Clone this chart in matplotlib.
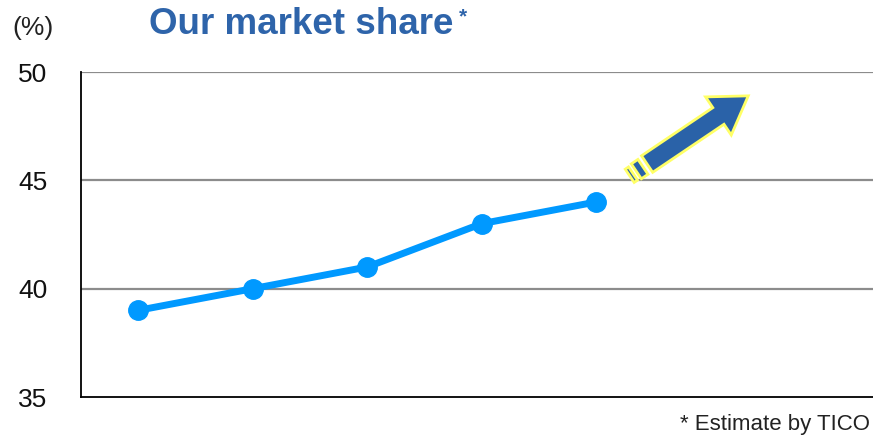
import numpy as np
import matplotlib.pyplot as plt
from matplotlib.patches import Polygon

# data
periods = [0, 1, 2, 3, 4]
share = [39, 40, 41, 43, 44]
y_ticks = [35, 40, 45, 50]

plt.rcParams['font.family'] = ['Liberation Sans', 'DejaVu Sans']

fig = plt.figure(figsize=(8.73, 4.38), dpi=100)
ax = fig.add_axes([0.0928, 0.0936, 0.9072, 0.742])

ax.plot(periods, share, color='#0099FF', lw=5, marker='o', ms=14,
        solid_capstyle='round', zorder=3, clip_on=False)

ax.set_xlim(-0.5, 6.42)
ax.set_ylim(35, 50)
ax.set_yticks(y_ticks)
ax.set_yticklabels([str(v) for v in y_ticks], fontsize=19, color='#111111')
ax.set_xticks([])
ax.tick_params(axis='y', length=0, pad=24)
for v in [40, 45, 50]:
    ax.axhline(v, color='#8C8C8C', lw=1.6, zorder=1)
ax.spines['top'].set_visible(False)
ax.spines['right'].set_visible(False)
ax.spines['left'].set_linewidth(1.3)
ax.spines['bottom'].set_linewidth(1.3)

fig.text(0.014, 0.935, '(%)', fontsize=19, color='#222222', va='center')
fig.text(0.171, 0.945, 'Our market share', fontsize=26.5, fontweight='bold',
         color='#2E64AA', va='center')
fig.text(0.526, 0.962, '*', fontsize=15, fontweight='bold', color='#2E64AA', va='center')
fig.text(0.997, 0.03, '* Estimate by TICO', fontsize=16,
         ha='right', va='center', color='#222222')

# decorative trend arrow (built in pixel units, anchored at a data point)
fig.canvas.draw()
tip = ax.transData.transform((5.33, 48.9))
ang = np.deg2rad(34)
u = np.array([np.cos(ang), np.sin(ang)])      # along arrow (toward tip)
n = np.array([-np.sin(ang), np.cos(ang)])     # normal


def shape(pts):
    return [tip + s * u + w * n for s, w in pts]


body_w, head_w, head_l, body_l = 10, 23, 36, 122
arrow_pts = [(0, 0), (-head_l, head_w), (-head_l, body_w), (-body_l, body_w),
             (-body_l, -body_w), (-head_l, -body_w), (-head_l, -head_w)]
stripe2 = [(-127, 9), (-135, 9), (-135, -9), (-127, -9)]
stripe1 = [(-139, 8), (-143, 8), (-143, -8), (-139, -8)]
for pts in [arrow_pts, stripe2, stripe1]:
    fig.patches.append(Polygon(shape(pts), closed=True, transform=None,
                               facecolor='#2A62A8', edgecolor='#FFFF66',
                               lw=2, joinstyle='miter', zorder=5))

fig.savefig('out.png', dpi=100)
